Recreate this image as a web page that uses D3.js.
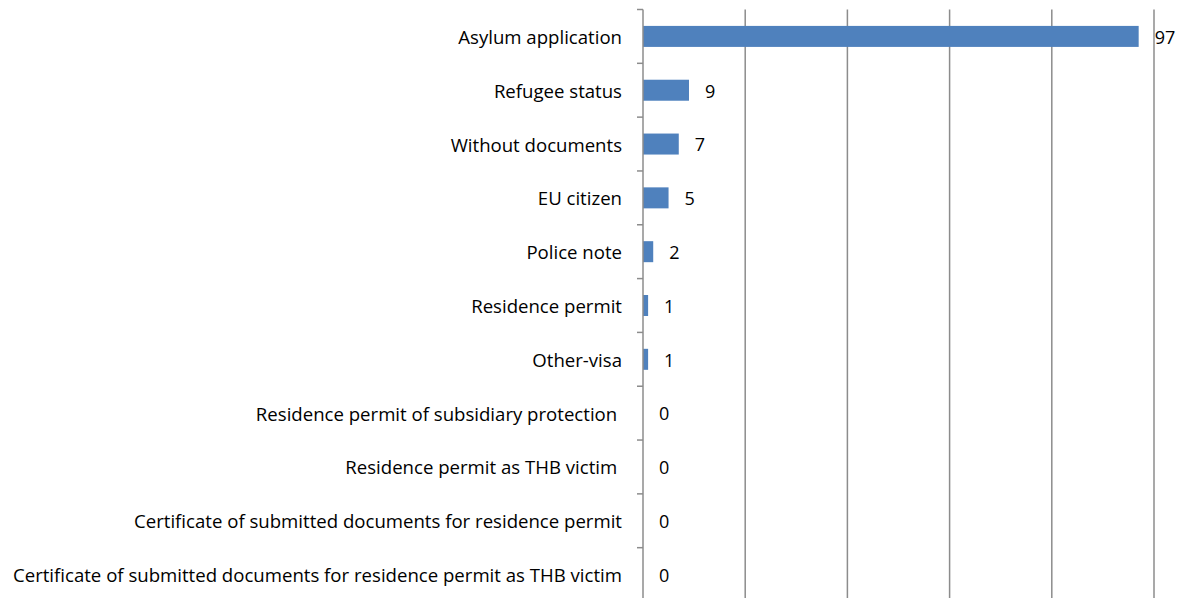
<!DOCTYPE html>
<html>
<head>
<meta charset="utf-8">
<script src="https://cdn.jsdelivr.net/npm/d3@7"></script>
<style>
  html, body { margin: 0; padding: 0; background: #fff; }
  svg { display: block; }
</style>
</head>
<body>
<svg></svg>
<script>
// categories and counts, read top to bottom
const categories = [
  'Asylum application',
  'Refugee status',
  'Without documents',
  'EU citizen',
  'Police note',
  'Residence permit',
  'Other-visa',
  'Residence permit of subsidiary protection ',
  'Residence permit as THB victim ',
  'Certificate of submitted documents for residence permit',
  'Certificate of submitted documents for residence permit as THB victim'
]
const counts = [97, 9, 7, 5, 2, 1, 1, 0, 0, 0, 0]
const gridValues = [0, 20, 40, 60, 80, 100]

const width = 1180
const height = 598
const fontSize = 18.6

const svg = d3.select('svg')
  .attr('width', width)
  .attr('height', height)
  .style('font-family', '"Open Sans", Lato, sans-serif')

const x = d3.scaleLinear()
  .domain([0, 100])
  .range([643, 1154])

const y = d3.scaleBand()
  .domain(categories)
  .range([9.5, 601.5])
  .paddingInner(0)

const barH = 21

// vertical gridlines (skip 0, the axis draws it)
svg.append('g')
  .selectAll('line')
  .data(gridValues.slice(1))
  .enter()
  .append('line')
  .attr('x1', d => x(d))
  .attr('x2', d => x(d))
  .attr('y1', y.range()[0])
  .attr('y2', height + 10)
  .attr('stroke', '#8c8c8c')
  .attr('stroke-width', 1.5)

// bars
svg.append('g')
  .selectAll('rect')
  .data(counts)
  .enter()
  .append('rect')
  .attr('x', x(0))
  .attr('y', (d, i) => y(categories[i]) + y.bandwidth() / 2 - barH / 2)
  .attr('width', d => x(d) - x(0))
  .attr('height', barH)
  .attr('fill', '#4f81bd')

// category axis, ticks on band boundaries
const axisG = svg.append('g')
axisG.append('line')
  .attr('x1', x(0))
  .attr('x2', x(0))
  .attr('y1', y.range()[0])
  .attr('y2', height + 10)
  .attr('stroke', '#8c8c8c')
  .attr('stroke-width', 1.5)

axisG.selectAll('line.tick')
  .data(d3.range(categories.length + 1))
  .enter()
  .append('line')
  .attr('class', 'tick')
  .attr('x1', x(0) - 6)
  .attr('x2', x(0))
  .attr('y1', i => y.range()[0] + i * y.step())
  .attr('y2', i => y.range()[0] + i * y.step())
  .attr('stroke', '#8c8c8c')
  .attr('stroke-width', 1.5)

axisG.selectAll('text')
  .data(categories)
  .enter()
  .append('text')
  .attr('x', x(0) - 21)
  .attr('y', d => y(d) + y.bandwidth() / 2 + 1)
  .attr('dy', '0.35em')
  .attr('text-anchor', 'end')
  .style('white-space', 'pre')
  .attr('font-size', fontSize)
  .attr('fill', '#000')
  .text(d => d)

// value labels
svg.append('g')
  .selectAll('text')
  .data(counts)
  .enter()
  .append('text')
  .attr('x', d => x(d) + 16)
  .attr('y', (d, i) => y(categories[i]) + y.bandwidth() / 2 + 1)
  .attr('dy', '0.35em')
  .attr('font-size', 18)
  .attr('fill', '#000')
  .text(d => d)
</script>
</body>
</html>
